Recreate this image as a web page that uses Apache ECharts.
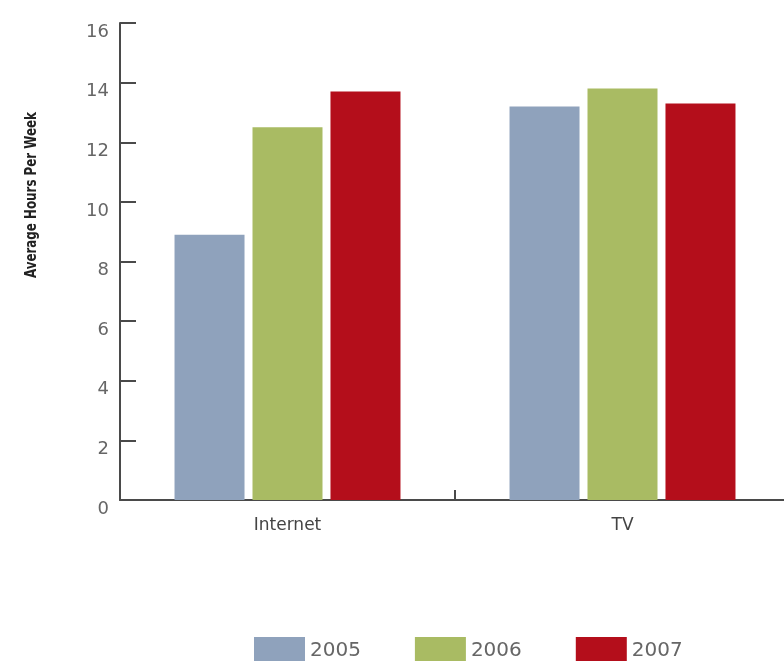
<!DOCTYPE html>
<html>
<head>
<meta charset="utf-8">
<script src="https://cdn.jsdelivr.net/npm/echarts@6/dist/echarts.min.js"></script>
<style>
html,body{margin:0;padding:0;background:#fff;}
#c{width:784px;height:661px;}
</style>
</head>
<body>
<div id="c"></div>
<script>
var categories = ['Internet', 'TV'];
var years = ['2005', '2006', '2007'];
var values2005 = [8.9, 13.2];
var values2006 = [12.5, 13.8];
var values2007 = [13.7, 13.3];
var yTicks = [0, 2, 4, 6, 8, 10, 12, 14, 16];
var yTitle = 'Average Hours Per Week';

var colors = ['#8fa2bc', '#a9bb63', '#b40e1b'];
var seriesData = [values2005, values2006, values2007];

var chart = echarts.init(document.getElementById('c'), null, {renderer: 'canvas'});
var series = years.map(function (y, i) {
  return {
    name: y,
    type: 'bar',
    data: seriesData[i],
    barWidth: 70,
    barGap: '11.4%',
    itemStyle: {color: colors[i]},
    emphasis: {disabled: true}
  };
});

chart.setOption({
  animation: false,
  backgroundColor: '#ffffff',
  color: colors,
  grid: {left: 120, top: 23, width: 670, height: 477, containLabel: false, outerBoundsMode: 'none'},
  legend: {
    data: years,
    left: 249,
    top: 632,
    itemWidth: 51,
    itemHeight: 28,
    itemGap: 54,
    icon: 'rect',
    textStyle: {fontFamily: 'DejaVu Sans', fontSize: 20, color: '#666666'}
  },
  xAxis: {
    type: 'category',
    data: categories,
    boundaryGap: true,
    axisLine: {show: true, lineStyle: {color: '#4a4a4a', width: 2}},
    axisTick: {show: true, inside: true, length: 10, lineStyle: {color: '#4a4a4a', width: 2}},
    axisLabel: {
      margin: 17,
      fontFamily: 'DejaVu Sans',
      fontSize: 17,
      color: '#444444'
    },
    splitLine: {show: false}
  },
  yAxis: {
    type: 'value',
    min: yTicks[0],
    max: yTicks[yTicks.length - 1],
    interval: 2,
    axisLine: {show: true, lineStyle: {color: '#4a4a4a', width: 2}},
    axisTick: {show: true, inside: true, length: 16, lineStyle: {color: '#4a4a4a', width: 2}},
    axisLabel: {
      margin: 11,
      fontFamily: 'DejaVu Sans',
      fontSize: 18,
      color: '#666666',
      verticalAlign: 'top'
    },
    splitLine: {show: false}
  },
  graphic: [{
    type: 'text',
    left: 25,
    top: 112,
    rotation: Math.PI / 2,
    scaleX: 0.88,
    style: {
      text: yTitle,
      fontFamily: "'Liberation Sans Narrow', 'DejaVu Sans Condensed', sans-serif",
      fontWeight: 'bold',
      fontSize: 15,
      fill: '#222222'
    }
  }],
  series: series
});
</script>
</body>
</html>
